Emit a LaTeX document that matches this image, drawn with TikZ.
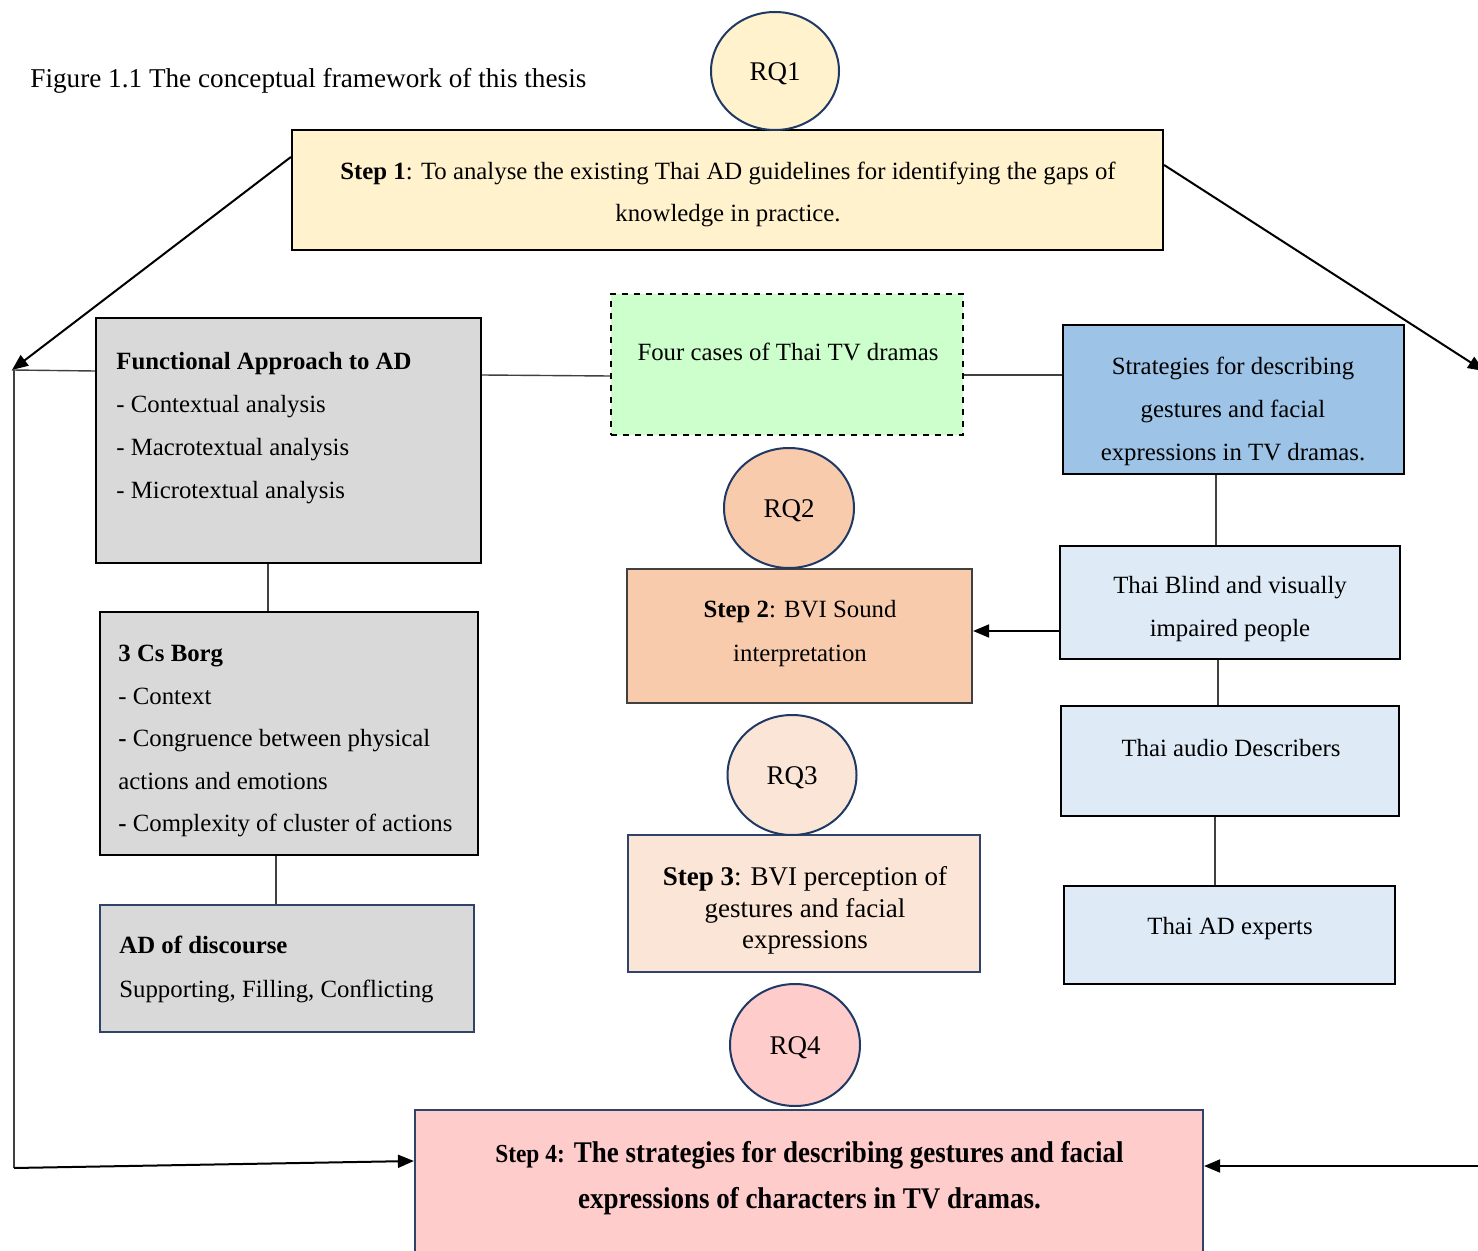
\documentclass[tikz,border=0pt]{standalone}
\usepackage{fontspec}
\usepackage{graphicx}
\setmainfont{Liberation Serif}
\usetikzlibrary{arrows.meta,shapes.geometric}
\definecolor{yellowfill}{HTML}{FFF2CC}
\definecolor{grayfill}{HTML}{D9D9D9}
\definecolor{greenfill}{HTML}{CCFFCC}
\definecolor{stratblue}{HTML}{9DC3E6}
\definecolor{lightblue}{HTML}{DEEBF7}
\definecolor{orangefill}{HTML}{F8CBAD}
\definecolor{peachfill}{HTML}{FBE5D6}
\definecolor{pinkfill}{HTML}{FFCCCC}
\definecolor{navy}{HTML}{1F3864}
\definecolor{bordernavy}{HTML}{2F4468}
\definecolor{linegray}{HTML}{404040}
\tikzset{
  boxnode/.style={draw=black, line width=1.1pt, rectangle, inner sep=0pt},
  rqnode/.style={draw=navy, line width=1pt, ellipse, inner sep=0pt},
  txt/.style={inner sep=0pt, font=\fontsize{12.4}{21.5}\selectfont},
  conn/.style={draw=linegray, line width=0.7pt},
  arr/.style={draw=black, line width=1pt, -{Triangle[length=8pt,width=6.5pt]}},
}
\begin{document}
\begin{tikzpicture}[x=0.5pt,y=-0.5pt]
\useasboundingbox (0,0) rectangle (1478,1251);
\clip (0,0) rectangle (1478,1251);
\fill[white] (0,0) rectangle (1478,1251);

% title
\node[txt, anchor=west, font=\fontsize{13.6}{16}\selectfont] (title) at (30,81) {Figure 1.1 The conceptual framework of this thesis};

% boxes
\node[boxnode, fill=yellowfill, minimum width=435.5pt, minimum height=60pt] (step1) at (727.5,190) {};
\node[boxnode, fill=grayfill, minimum width=192.5pt, minimum height=122.5pt] (fa) at (288.5,440.5) {};
\node[boxnode, fill=greenfill, dashed, minimum width=176pt, minimum height=70.5pt] (four) at (787,364.5) {};
\node[boxnode, fill=stratblue, minimum width=170.5pt, minimum height=74.5pt] (strat) at (1233.5,399.5) {};
\node[boxnode, fill=lightblue, minimum width=170pt, minimum height=56.5pt] (blind) at (1230,602.5) {};
\node[boxnode, fill=lightblue, minimum width=169pt, minimum height=55pt] (audio) at (1230,761) {};
\node[boxnode, fill=lightblue, minimum width=165.5pt, minimum height=49pt] (experts) at (1229.5,935) {};
\node[boxnode, draw=linegray, fill=orangefill, minimum width=172.5pt, minimum height=67pt] (step2) at (799.5,636) {};
\node[boxnode, draw=bordernavy, fill=peachfill, minimum width=176pt, minimum height=68.5pt] (step3) at (804,903.5) {};
\node[boxnode, draw=bordernavy, fill=pinkfill, minimum width=394pt, minimum height=80pt] (step4) at (809,1190) {};
\node[boxnode, fill=grayfill, minimum width=189pt, minimum height=121.5pt] (cs) at (289,733.5) {};
\node[boxnode, draw=bordernavy, fill=grayfill, minimum width=187pt, minimum height=63.5pt] (adisc) at (287,968.5) {};

% RQ circles
\node[rqnode, fill=yellowfill, minimum width=64pt, minimum height=59pt] (rq1) at (775,71) {};
\node[rqnode, fill=orangefill, minimum width=65pt, minimum height=60pt] (rq2) at (789,508) {};
\node[rqnode, fill=peachfill, minimum width=64.5pt, minimum height=60pt] (rq3) at (792,775) {};
\node[rqnode, fill=pinkfill, minimum width=65pt, minimum height=61pt] (rq4) at (795,1045) {};

\node[txt, font=\fontsize{13.5}{16}\selectfont] (rq1t) at ([yshift=-1.2pt]rq1.center) {RQ1};
\node[txt, font=\fontsize{13.5}{16}\selectfont] (rq2t) at ([yshift=-1.2pt]rq2.center) {RQ2};
\node[txt, font=\fontsize{13.5}{16}\selectfont] (rq3t) at ([yshift=-1.2pt]rq3.center) {RQ3};
\node[txt, font=\fontsize{13.5}{16}\selectfont] (rq4t) at ([yshift=-1.2pt]rq4.center) {RQ4};

% texts
\node[txt, align=center, font=\fontsize{12.4}{21}\selectfont] (step1t) at (728,194) {\textbf{Step 1}: To analyse the existing Thai AD guidelines for identifying the gaps of\\knowledge in practice.};
\node[txt, align=left, anchor=west] (fat) at (116,428) {\textbf{Functional Approach to AD}\\- Contextual analysis\\- Macrotextual analysis\\- Microtextual analysis};
\node[txt] (fourt) at (788,352) {Four cases of Thai TV dramas};
\node[txt, align=center] (stratt) at (1233,411) {Strategies for describing\\gestures and facial\\expressions in TV dramas.};
\node[txt, align=center] (blindt) at (1230,609) {Thai Blind and visually\\impaired people};
\node[txt] (audiot) at (1231,748) {Thai audio Describers};
\node[txt] (expertst) at (1230,929) {Thai AD experts};
\node[txt, align=center, font=\fontsize{12.4}{22}\selectfont] (step2t) at (800,634) {\textbf{Step 2}: BVI Sound\\interpretation};
\node[txt, align=center, font=\fontsize{13.5}{15.8}\selectfont] (step3t) at (805,910.5) {\textbf{Step 3}: BVI perception of\\gestures and facial\\expressions};
\node[txt, align=left, anchor=west, font=\fontsize{12.4}{21.25}\selectfont] (cst) at (118,741) {\textbf{3 Cs Borg}\\- Context\\\textbf{-} Congruence between physical\\actions and emotions\\\textbf{-} Complexity of cluster of actions};
\node[txt, align=left, anchor=west, font=\fontsize{12.4}{22}\selectfont] (adt) at (119,969) {\textbf{AD of discourse}\\Supporting, Filling, Conflicting};
\node[txt, align=center, font=\fontsize{15}{23}\selectfont\bfseries] (step4t) at (809.5,1178) {\scalebox{0.9}[1]{{\fontsize{13}{23}\selectfont Step 4:} The strategies for describing gestures and facial}\\\scalebox{0.9}[1]{expressions of characters in TV dramas.}};

% connectors
\draw[conn] (fa.east |- 0,375) -- (four.west |- 0,376);
\draw[conn] (four.east |- 0,375) -- (strat.west |- 0,375);
\draw[conn] (strat.south -| 1216,0) -- (blind.north -| 1216,0);
\draw[conn] (blind.south -| 1218,0) -- (audio.north -| 1218,0);
\draw[conn] (audio.south -| 1215,0) -- (experts.north -| 1215,0);
\draw[conn] (fa.south -| 268,0) -- (cs.north -| 268,0);
\draw[conn] (cs.south -| 276,0) -- (adisc.north -| 276,0);
\draw[arr] (blind.west |- 0,631) -- (step2.east |- 0,631);

% left loop
\coordinate (ltop) at (12,370);
\coordinate (lbot) at (14,1168);
\draw[arr] (step1.west |- 0,157) -- (ltop);
\draw[conn] (fa.west |- 0,371) -- (ltop);
\draw[conn] ([xshift=1pt]ltop) -- (lbot);
\draw[arr] (lbot) -- (step4.west |- 0,1161);

% right loop
\coordinate (rtop) at (1484,371);
\coordinate (rbot) at (1480,1166);
\draw[arr] (step1.east |- 0,165) -- (rtop);
\draw[arr] (rbot) -- (step4.east |- 0,1166);
\end{tikzpicture}
\end{document}
